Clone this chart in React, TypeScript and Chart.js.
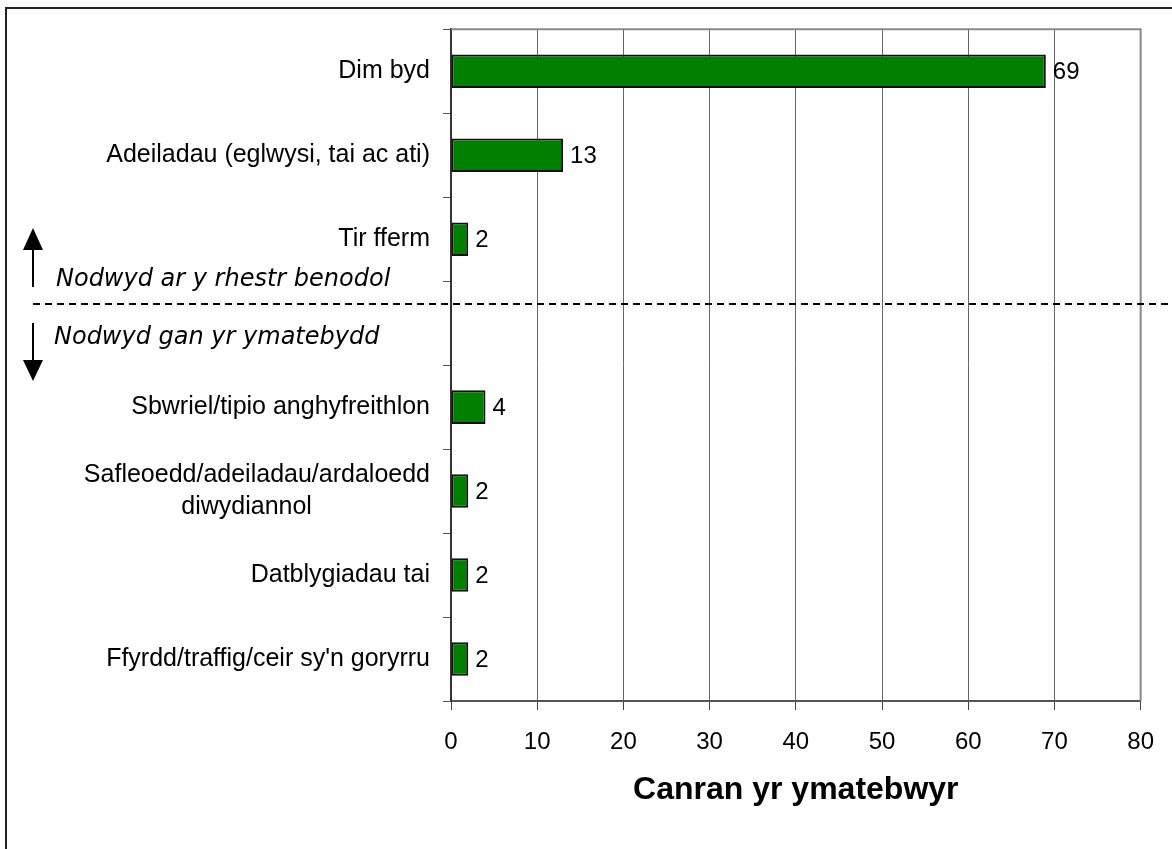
import { useEffect, useRef } from "react";
import { Chart, registerables } from "chart.js";

Chart.register(...registerables);

const NB = "\u00a0";

const categories: (string | string[])[] = [
  "Dim byd",
  "Adeiladau (eglwysi, tai ac ati)",
  "Tir fferm",
  "",
  "Sbwriel/tipio anghyfreithlon",
  ["Safleoedd/adeiladau/ardaloedd", "diwydiannol" + NB.repeat(17)],
  "Datblygiadau tai",
  "Ffyrdd/traffig/ceir sy'n goryrru",
];

const values: (number | null)[] = [69, 13, 2, null, 4, 2, 2, 2];

const xTicks = [0, 10, 20, 30, 40, 50, 60, 70, 80];

const axisTitle = "Canran yr ymatebwyr";
const upperNote = "Nodwyd ar y rhestr benodol";
const lowerNote = "Nodwyd gan yr ymatebydd";

const SANS = "'Liberation Sans', Arial, sans-serif";

export default function App() {
  const ref = useRef<HTMLCanvasElement | null>(null);

  useEffect(() => {
    document.body.style.margin = "0";
    const canvas = ref.current;
    if (!canvas) return;

    const decor = {
      id: "decor",
      beforeDraw(chart: any) {
        const ctx = chart.ctx;
        ctx.save();
        ctx.fillStyle = "#ffffff";
        ctx.fillRect(0, 0, chart.width, chart.height);
        ctx.strokeStyle = "#222222";
        ctx.lineWidth = 2;
        ctx.beginPath();
        ctx.moveTo(6, chart.height);
        ctx.lineTo(6, 8);
        ctx.lineTo(chart.width, 8);
        ctx.stroke();
        ctx.restore();
      },
      afterDatasetsDraw(chart: any) {
        const ctx = chart.ctx;
        const area = chart.chartArea;
        ctx.save();
        // top and right plot border
        ctx.strokeStyle = "#888888";
        ctx.lineWidth = 2;
        ctx.beginPath();
        ctx.moveTo(area.left, area.top);
        ctx.lineTo(area.right, area.top);
        ctx.lineTo(area.right, area.bottom);
        ctx.stroke();

        // value labels
        ctx.fillStyle = "#000000";
        ctx.font = `24px ${SANS}`;
        ctx.textAlign = "left";
        ctx.textBaseline = "middle";
        const meta = chart.getDatasetMeta(0);
        meta.data.forEach((bar: any, i: number) => {
          const v = values[i];
          if (v === null || v === undefined) return;
          ctx.fillText(String(v), bar.x + 7, bar.y + 1);
        });

        // divider and notes
        ctx.strokeStyle = "#000000";
        ctx.lineWidth = 2;
        ctx.setLineDash([7, 5]);
        ctx.beginPath();
        ctx.moveTo(33, 304);
        ctx.lineTo(chart.width, 304);
        ctx.stroke();
        ctx.setLineDash([]);

        // up arrow
        ctx.beginPath();
        ctx.moveTo(33, 287);
        ctx.lineTo(33, 248);
        ctx.stroke();
        ctx.fillStyle = "#000000";
        ctx.beginPath();
        ctx.moveTo(33, 228);
        ctx.lineTo(43, 250);
        ctx.lineTo(23, 250);
        ctx.closePath();
        ctx.fill();

        // down arrow
        ctx.beginPath();
        ctx.moveTo(33, 323);
        ctx.lineTo(33, 362);
        ctx.stroke();
        ctx.beginPath();
        ctx.moveTo(33, 381);
        ctx.lineTo(43, 360);
        ctx.lineTo(23, 360);
        ctx.closePath();
        ctx.fill();

        ctx.font = "italic 24px 'DejaVu Sans', Verdana, sans-serif";
        ctx.textAlign = "left";
        ctx.textBaseline = "alphabetic";
        ctx.fillText(upperNote, 56, 286);
        ctx.fillText(lowerNote, 54, 344);
        ctx.restore();
      },
    };

    const chart = new Chart(canvas, {
      type: "bar",
      data: {
        labels: categories as any,
        datasets: [
          {
            data: values as any,
            backgroundColor: "#008000",
            borderColor: "#111111",
            borderWidth: 2,
            borderSkipped: false,
            categoryPercentage: 1,
            barPercentage: 0.4,
          },
        ],
      },
      options: {
        indexAxis: "y",
        animation: false,
        responsive: false,
        devicePixelRatio: 1,
        layout: { padding: { left: 0, top: 29, right: 31, bottom: 0 } },
        plugins: {
          legend: { display: false },
          tooltip: { enabled: false },
        },
        scales: {
          x: {
            type: "linear",
            min: 0,
            max: 80,
            afterFit(scale: any) {
              scale.height = 148;
            },
            afterBuildTicks(scale: any) {
              scale.ticks = xTicks.map((v) => ({ value: v }));
            },
            ticks: {
              color: "#000000",
              font: { family: SANS, size: 24 },
              padding: 18,
              maxRotation: 0,
            },
            grid: {
              color: "#666666",
              lineWidth: 1,
              tickLength: 9,
              tickColor: "#444444",
            },
            border: { color: "#555555", width: 2 },
            title: {
              display: true,
              text: axisTitle,
              color: "#000000",
              font: { family: SANS, size: 32, weight: "bold" },
              padding: { top: 0, bottom: 40 },
            },
          },
          y: {
            type: "category",
            afterFit(scale: any) {
              scale.width = 451;
            },
            ticks: {
              color: "#000000",
              font: { family: SANS, size: 25, lineHeight: 1.3 },
              padding: 13,
              autoSkip: false,
            },
            grid: {
              drawOnChartArea: false,
              drawTicks: true,
              tickLength: 8,
              tickColor: "#555555",
              offset: true,
            },
            border: { color: "#333333", width: 2 },
          },
        },
      },
      plugins: [decor],
    });

    return () => chart.destroy();
  }, []);

  return (
    <div style={{ width: 1172, height: 849 }}>
      <canvas ref={ref} width={1172} height={849} style={{ display: "block" }} />
    </div>
  );
}
